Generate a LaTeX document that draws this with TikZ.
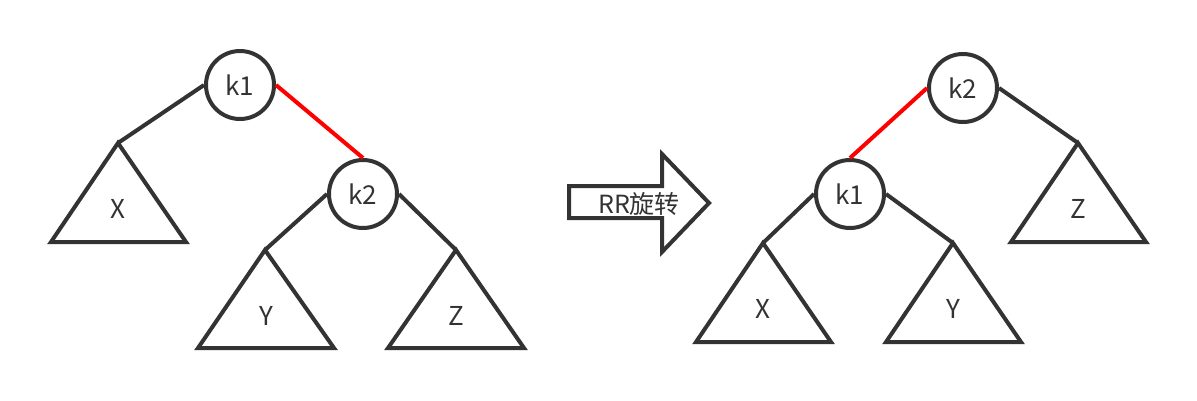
\documentclass[tikz,border=0pt]{standalone}
\usepackage{fontspec}
\setmainfont{Noto Sans CJK SC}
\definecolor{ink}{HTML}{333333}
\definecolor{redl}{HTML}{FF0000}
\tikzset{
  knode/.style={circle, draw=ink, line width=4pt, minimum size=68pt, inner sep=0pt, text=ink, font=\fontsize{26}{26}\selectfont},
  edge/.style={draw=ink, line width=4pt},
  rededge/.style={draw=redl, line width=4pt},
  tri/.style={draw=ink, line width=4pt, line join=miter},
  tlabel/.style={text=ink, font=\fontsize{26}{26}\selectfont},
}
\begin{document}
\begin{tikzpicture}[x=1pt,y=-1pt]
\useasboundingbox (0,0) rectangle (1197,400);
% ---------- left tree ----------
\node[knode] (Lk1) at (240,85) {k1};
\node[knode] (Lk2) at (363,194) {k2};
\coordinate (LXa) at (118,143);
\coordinate (LYa) at (265,250);
\coordinate (LZa) at (456,250);
\draw[tri] (LXa) -- (51,242) -- (186,242) -- cycle;
\draw[tri] (LYa) -- (198,348) -- (334,348) -- cycle;
\draw[tri] (LZa) -- (388,348) -- (524,348) -- cycle;
\node[tlabel] (LX) at (118,209) {X};
\node[tlabel] (LY) at (266,316) {Y};
\node[tlabel] (LZ) at (456,316) {Z};
\draw[edge] (Lk1.west) -- (LXa);
\draw[rededge] (Lk1.east) -- (Lk2.north);
\draw[edge] (Lk2.west) -- (LYa);
\draw[edge] (Lk2.east) -- (LZa);
% ---------- arrow ----------
\draw[ink, line width=4pt, line join=miter] (569,186) -- (662,186) -- (662,154) -- (709,203) -- (662,252) -- (662,218) -- (569,218) -- cycle;
\node[text=ink, font=\fontsize{25}{25}\selectfont] (rr) at (639,204) {RR旋转};
% ---------- right tree ----------
\node[knode] (Rk2) at (963,88) {k2};
\node[knode] (Rk1) at (850,194) {k1};
\coordinate (RZa) at (1078,143);
\coordinate (RXa) at (763,243);
\coordinate (RYa) at (953,243);
\draw[tri] (RZa) -- (1011,242) -- (1146,242) -- cycle;
\draw[tri] (RXa) -- (696,342) -- (831,342) -- cycle;
\draw[tri] (RYa) -- (886,342) -- (1021,342) -- cycle;
\node[tlabel] (RZ) at (1078,209) {Z};
\node[tlabel] (RX) at (763,309) {X};
\node[tlabel] (RY) at (953,309) {Y};
\draw[rededge] (Rk2.west) -- (Rk1.north);
\draw[edge] (Rk2.east) -- (RZa);
\draw[edge] (Rk1.west) -- (RXa);
\draw[edge] (Rk1.east) -- (RYa);
\end{tikzpicture}
\end{document}
